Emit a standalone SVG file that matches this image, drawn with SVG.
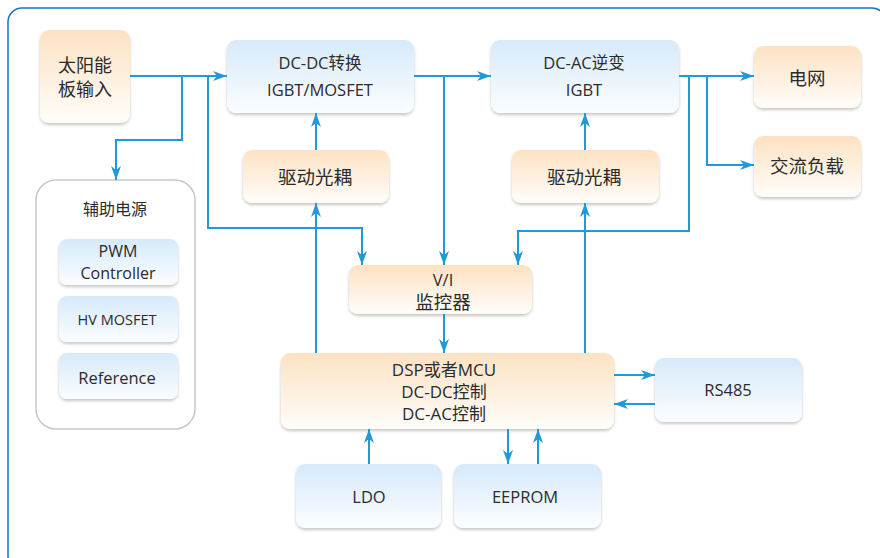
<svg xmlns="http://www.w3.org/2000/svg" width="880" height="558" viewBox="0 0 880 558">
<defs>
<linearGradient id="go" x1="0" y1="0" x2="0" y2="1"><stop offset="0" stop-color="#fde2c3"/><stop offset="1" stop-color="#fffdfa"/></linearGradient>
<linearGradient id="gb" x1="0" y1="0" x2="0" y2="1"><stop offset="0" stop-color="#d6eafa"/><stop offset="1" stop-color="#fbfdff"/></linearGradient>
<filter id="sh" x="-10%" y="-10%" width="120%" height="130%"><feDropShadow dx="0" dy="2" stdDeviation="1.5" flood-color="#000" flood-opacity="0.22"/></filter>
<marker id="ar" viewBox="0 0 14 10" refX="14" refY="5" markerWidth="14" markerHeight="10" markerUnits="userSpaceOnUse" orient="auto"><path d="M0,0 L14,5 L0,10 L4,5 z" fill="#2199d8"/></marker>
<style>
.o{fill:url(#go);filter:url(#sh)}
.b{fill:url(#gb);filter:url(#sh)}
text{font-family:"Open Sans","Noto Sans CJK SC",sans-serif;fill:#2b2b2b;text-anchor:middle;dominant-baseline:central;font-size:16.5px}
.cj{font-size:18.5px}
.c path{fill:none;stroke:#2199d8;stroke-width:2}
.a{marker-end:url(#ar)}
</style>
</defs>
<rect x="8" y="8" width="878" height="562" rx="14" fill="#fff" stroke="#1a72c0" stroke-width="1.5"/>
<g id="solar"><rect class="o" x="40" y="30" width="90" height="93" rx="9"/><text x="85" y="65" style="font-size:18px">太阳能</text><text x="85" y="89" style="font-size:18px">板输入</text></g>
<g id="dcdc"><rect class="b" x="227" y="40" width="187" height="73" rx="9"/><text x="320" y="62">DC-DC转换</text><text x="320" y="89">IGBT/MOSFET</text></g>
<g id="dcac"><rect class="b" x="491" y="40" width="188" height="73" rx="9"/><text x="584" y="62">DC-AC逆变</text><text x="584" y="89">IGBT</text></g>
<g id="drv1"><rect class="o" x="243" y="150" width="146" height="53" rx="9"/><text class="cj" x="315" y="176">驱动光耦</text></g>
<g id="drv2"><rect class="o" x="512" y="150" width="147" height="53" rx="9"/><text class="cj" x="584" y="176">驱动光耦</text></g>
<g id="grid"><rect class="o" x="754" y="46" width="107" height="62" rx="9"/><text class="cj" x="807" y="77">电网</text></g>
<g id="load"><rect class="o" x="754" y="136" width="107" height="61" rx="9"/><text class="cj" x="807" y="165">交流负载</text></g>
<g id="aux"><rect x="36" y="180" width="159" height="249" rx="20" fill="#fff" stroke="#c8c8c8" stroke-width="1.5"/><text x="115" y="209" style="font-size:16px">辅助电源</text>
<g id="pwm"><rect class="b" x="59" y="239" width="119" height="46" rx="8"/><text x="118" y="251" style="font-size:16px">PWM</text><text x="118" y="273" style="font-size:16px">Controller</text></g>
<g id="hvmos"><rect class="b" x="59" y="296" width="119" height="46" rx="8"/><text x="117" y="319" style="font-size:14.5px">HV MOSFET</text></g>
<g id="ref"><rect class="b" x="59" y="353" width="119" height="46" rx="8"/><text x="117" y="377">Reference</text></g>
</g>
<g id="vi"><rect class="o" x="349" y="265" width="183" height="49" rx="9"/><text x="443" y="279">V/I</text><text class="cj" x="443" y="301">监控器</text></g>
<g id="dsp"><rect class="o" x="281" y="353" width="333" height="76" rx="9"/><text x="444" y="369" style="font-size:17px">DSP或者MCU</text><text x="444" y="391" style="font-size:17px">DC-DC控制</text><text x="444" y="413" style="font-size:17px">DC-AC控制</text></g>
<g id="rs485"><rect class="b" x="655" y="358" width="147" height="64" rx="9"/><text x="728" y="389">RS485</text></g>
<g id="ldo"><rect class="b" x="296" y="464" width="145" height="64" rx="9"/><text x="369" y="496">LDO</text></g>
<g id="eeprom"><rect class="b" x="454" y="464" width="147" height="64" rx="9"/><text x="525" y="496">EEPROM</text></g>
<g id="connectors" class="c">
<path class="a" d="M130,76 H227"/>
<path class="a" d="M182,76 V140 H116 V180"/>
<path class="a" d="M208,76 V228 H362 V265"/>
<path class="a" d="M414,76 H491"/>
<path class="a" d="M444,76 V265"/>
<path class="a" d="M679,76 H754"/>
<path class="a" d="M689,76 V231 H518 V265"/>
<path class="a" d="M707,76 V165 H754"/>
<path class="a" d="M316,150 V113"/>
<path class="a" d="M316,353 V203"/>
<path class="a" d="M585,150 V113"/>
<path class="a" d="M585,353 V203"/>
<path class="a" d="M444,314 V353"/>
<path class="a" d="M614,375 H655"/>
<path class="a" d="M655,404 H614"/>
<path class="a" d="M369,464 V429"/>
<path class="a" d="M508,429 V464"/>
<path class="a" d="M538,464 V429"/>
</g>
</svg>
